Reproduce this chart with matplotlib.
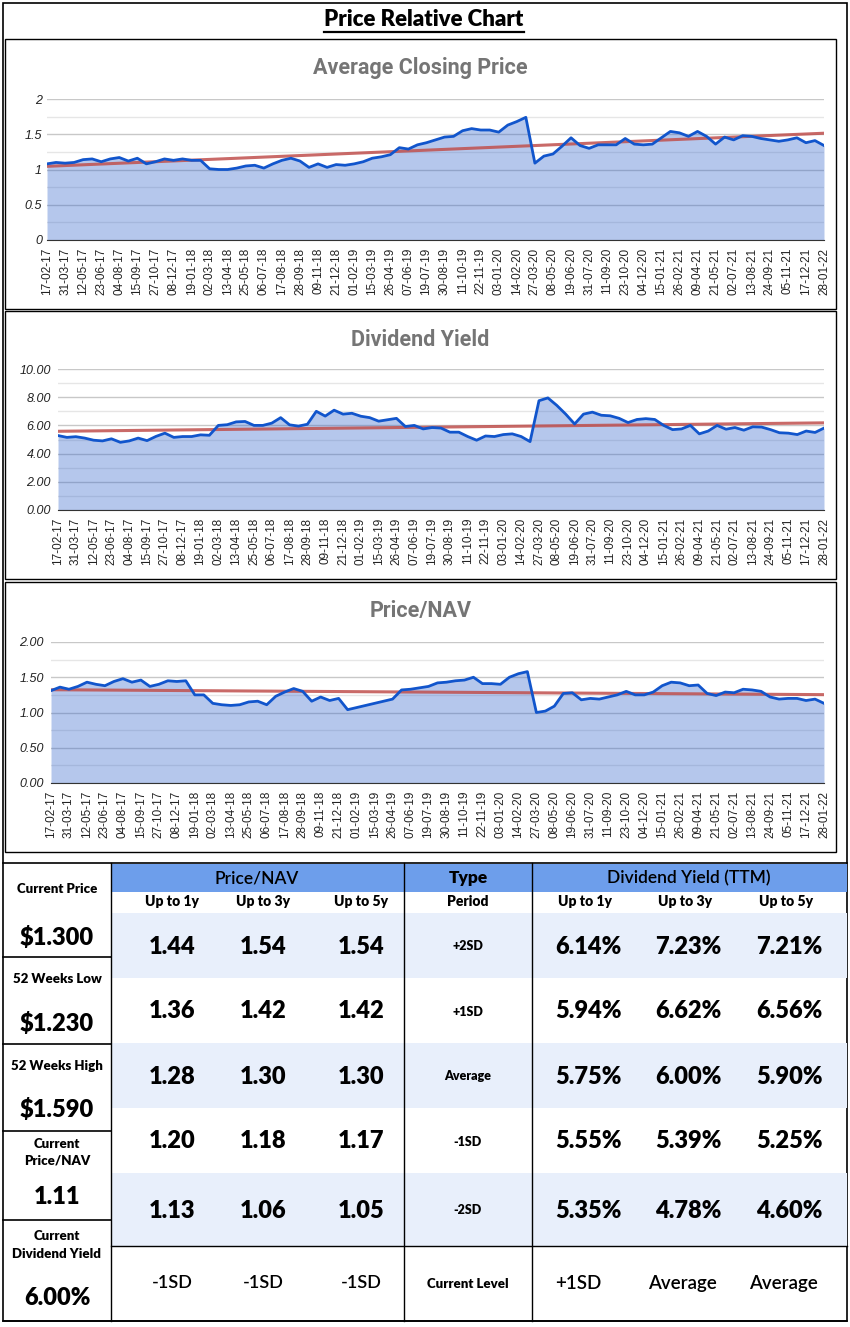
import numpy as np
import pandas as pd
import matplotlib
matplotlib.use('Agg')
import matplotlib.pyplot as plt
from matplotlib.patches import Rectangle
from matplotlib.ticker import FuncFormatter

# values read every 3 weeks, 17-02-2017 .. 28-01-2022
avg_close = [1.08, 1.10, 1.09, 1.10, 1.14, 1.15, 1.11, 1.15, 1.17, 1.12,
             1.16, 1.08, 1.11, 1.15, 1.13, 1.15, 1.13, 1.13, 1.01, 1.00,
             1.00, 1.02, 1.05, 1.06, 1.02, 1.08, 1.13, 1.16, 1.12, 1.03,
             1.08, 1.03, 1.07, 1.06, 1.08, 1.11, 1.16, 1.18, 1.21, 1.31,
             1.29, 1.35, 1.38, 1.42, 1.46, 1.47, 1.55, 1.58, 1.56, 1.56,
             1.53, 1.63, 1.68, 1.74, 1.09, 1.19, 1.22, 1.33, 1.45, 1.34,
             1.30, 1.35, 1.35, 1.35, 1.44, 1.36, 1.35, 1.36, 1.45, 1.54,
             1.52, 1.47, 1.54, 1.47, 1.36, 1.46, 1.42, 1.48, 1.47, 1.44,
             1.42, 1.40, 1.42, 1.45, 1.38, 1.41, 1.34]
div_yield = [5.28, 5.15, 5.20, 5.10, 4.95, 4.90, 5.05, 4.80, 4.90, 5.10,
             4.92, 5.22, 5.45, 5.15, 5.21, 5.21, 5.33, 5.30, 6.00, 6.05,
             6.25, 6.28, 6.00, 6.00, 6.16, 6.55, 6.04, 5.95, 6.08, 7.00,
             6.66, 7.08, 6.80, 6.86, 6.65, 6.55, 6.30, 6.40, 6.50, 5.92,
             6.00, 5.75, 5.85, 5.81, 5.52, 5.52, 5.21, 4.95, 5.25, 5.21,
             5.35, 5.40, 5.21, 4.85, 7.75, 7.95, 7.42, 6.80, 6.10, 6.80,
             6.94, 6.72, 6.68, 6.50, 6.20, 6.42, 6.48, 6.42, 6.00, 5.70,
             5.75, 6.00, 5.40, 5.60, 6.00, 5.73, 5.85, 5.66, 5.90, 5.88,
             5.70, 5.48, 5.45, 5.35, 5.60, 5.50, 5.81]
price_nav = [1.31, 1.36, 1.33, 1.37, 1.43, 1.40, 1.38, 1.44, 1.48, 1.43,
             1.46, 1.37, 1.40, 1.45, 1.44, 1.45, 1.25, 1.25, 1.13, 1.11,
             1.10, 1.11, 1.15, 1.16, 1.11, 1.23, 1.29, 1.34, 1.30, 1.16,
             1.22, 1.17, 1.20, 1.04, 1.07, 1.10, 1.13, 1.16, 1.19, 1.32,
             1.33, 1.35, 1.37, 1.42, 1.43, 1.45, 1.46, 1.50, 1.41, 1.41,
             1.40, 1.50, 1.55, 1.58, 1.00, 1.02, 1.09, 1.27, 1.28, 1.18,
             1.20, 1.19, 1.22, 1.25, 1.30, 1.25, 1.25, 1.29, 1.38, 1.43,
             1.42, 1.38, 1.39, 1.27, 1.24, 1.29, 1.28, 1.33, 1.32, 1.30,
             1.22, 1.19, 1.20, 1.20, 1.17, 1.19, 1.13]

tick_labels = ['17-02-17', '31-03-17', '12-05-17', '23-06-17', '04-08-17', '15-09-17',
               '27-10-17', '08-12-17', '19-01-18', '02-03-18', '13-04-18', '25-05-18',
               '06-07-18', '17-08-18', '28-09-18', '09-11-18', '21-12-18', '01-02-19',
               '15-03-19', '26-04-19', '07-06-19', '19-07-19', '30-08-19', '11-10-19',
               '22-11-19', '03-01-20', '14-02-20', '27-03-20', '08-05-20', '19-06-20',
               '31-07-20', '11-09-20', '23-10-20', '04-12-20', '15-01-21', '26-02-21',
               '09-04-21', '21-05-21', '02-07-21', '13-08-21', '24-09-21', '05-11-21',
               '17-12-21', '28-01-22']

# table
left_labels = ['Current Price', '52 Weeks Low', '52 Weeks High', 'Current\nPrice/NAV', 'Current\nDividend Yield']
left_values = ['$1.300', '$1.230', '$1.590', '1.11', '6.00%']
sd_types = ['+2SD', '+1SD', 'Average', '-1SD', '-2SD']
periods = ['Up to 1y', 'Up to 3y', 'Up to 5y']
pnav_1y = [1.44, 1.36, 1.28, 1.20, 1.13]
pnav_3y = [1.54, 1.42, 1.30, 1.18, 1.06]
pnav_5y = [1.54, 1.42, 1.30, 1.17, 1.05]
dy_1y = [6.14, 5.94, 5.75, 5.55, 5.35]
dy_3y = [7.23, 6.62, 6.00, 5.39, 4.78]
dy_5y = [7.21, 6.56, 5.90, 5.25, 4.60]
level_pnav = ['-1SD', '-1SD', '-1SD']
level_dy = ['+1SD', 'Average', 'Average']

dates = pd.date_range('2017-02-17', periods=len(avg_close), freq='21D')
tick_dates = pd.to_datetime(tick_labels, format='%d-%m-%y')

W, H = 850, 1327
fig = plt.figure(figsize=(W / 100, H / 100), dpi=100)
bg = fig.add_axes([0, 0, 1, 1])
bg.set_xlim(0, W)
bg.set_ylim(H, 0)
bg.axis('off')

CAL = ['Lato', 'DejaVu Sans']
ARIAL = ['Liberation Sans', 'DejaVu Sans']
HEAVY = 'heavy'


def px_axes(left, top, right, bottom):
    return fig.add_axes([left / W, 1 - bottom / H, (right - left) / W, (bottom - top) / H])


def area_chart(box, plot, values, title, ymax, ystep, fmt, ypad):
    l, t, r, b = box
    bg.add_patch(Rectangle((l, t), r - l, b - t, fill=False, ec='black', lw=1))
    bg.text((l + r) / 2, t + 29, title, ha='center', va='center', fontsize=15.5,
            weight='bold', color='#757575', family=['Roboto', 'DejaVu Sans'])
    ax = px_axes(*plot)
    ax.patch.set_alpha(0)
    vals = np.array(values)
    ax.fill_between(dates, vals, color='#3366cc', alpha=0.36, lw=0, zorder=2)
    xi = np.arange(len(vals))
    k, c = np.polyfit(xi, vals, 1)
    ax.plot(dates, k * xi + c, color='#c0504d', lw=2.2, alpha=0.85, zorder=3)
    ax.plot(dates, vals, color='#1155cc', lw=2, zorder=4)
    ax.set_xlim(dates[0], dates[-1])
    ax.set_ylim(0, ymax)
    ax.set_yticks(np.arange(0, ymax + ystep / 2, ystep))
    ax.set_yticks(np.arange(ystep / 2, ymax, ystep), minor=True)
    ax.yaxis.set_major_formatter(FuncFormatter(fmt))
    ax.set_xticks(tick_dates)
    ax.set_xticklabels(tick_labels, rotation=90, fontsize=8.5, family=ARIAL, color='#222222')
    for lab in ax.get_yticklabels():
        lab.set_fontstyle('italic')
        lab.set_fontsize(9)
        lab.set_family(ARIAL)
        lab.set_color('#222222')
    ax.set_axisbelow(True)
    ax.grid(axis='y', which='major', color='#c8c8c8', lw=1)
    ax.grid(axis='y', which='minor', color='#e6e6e6', lw=1)
    for sp in ['left', 'right', 'top']:
        ax.spines[sp].set_visible(False)
    ax.spines['bottom'].set_color('#333333')
    ax.tick_params(which='both', length=0)
    ax.tick_params(axis='x', pad=5.5)
    ax.tick_params(axis='y', pad=ypad)
    return ax


# outer frame and title
bg.add_patch(Rectangle((3, 3), 844, 1318, fill=False, ec='black', lw=1.2))
ttl = bg.text(424, 20, 'Price Relative Chart', ha='center', va='center', fontsize=16,
              weight=HEAVY, family=CAL)
fig.canvas.draw()
ext = ttl.get_window_extent().transformed(bg.transData.inverted())
bg.plot([ext.x0, ext.x1], [32, 32], color='black', lw=1.6)

area_chart((5, 39, 836, 309), (47, 99, 824, 240), avg_close, 'Average Closing Price',
           2, 0.5, lambda v, p: '{:g}'.format(v), 3.6)
area_chart((5, 311, 836, 579), (58, 369, 824, 510), div_yield, 'Dividend Yield',
           10, 2, lambda v, p: '{:.2f}'.format(v), 5)
area_chart((5, 582, 836, 852), (51, 642, 824, 783), price_nav, 'Price/NAV',
           2, 0.5, lambda v, p: '{:.2f}'.format(v), 5)

# ---- table ----
blue = '#6d9eeb'
light = '#e8effb'
row_top = [913, 978, 1043, 1108, 1173, 1246]
row_bot = [978, 1043, 1108, 1173, 1246, 1321]
pnav_x = [172, 263, 361]
dy_x = [588, 688, 789]
type_x = 468

bg.add_patch(Rectangle((111, 864), 736, 28, color=blue, lw=0))
for i in (0, 2, 4):
    bg.add_patch(Rectangle((111, row_top[i]), 736, row_bot[i] - row_top[i], color=light, lw=0))

bg.plot([3, 847], [863, 863], color='black', lw=1.2)
bg.plot([3, 847], [1321, 1321], color='black', lw=1.2)
bg.plot([111, 847], [1246, 1246], color='black', lw=1)
for x in (111, 404, 532):
    bg.plot([x, x], [863, 1321], color='black', lw=1)
for y in (957, 1044, 1131, 1220):
    bg.plot([3, 111], [y, y], color='black', lw=1.2)

bg.text(257, 878, 'Price/NAV', ha='center', va='center', fontsize=12.5, weight='semibold', family=CAL)
bg.text(type_x, 878, 'Type', ha='center', va='center', fontsize=12.5, weight=HEAVY, family=CAL)
bg.text(689, 878, 'Dividend Yield (TTM)', ha='center', va='center', fontsize=12.5,
        weight='semibold', family=CAL)
for j, p in enumerate(periods):
    bg.text(pnav_x[j], 902, p, ha='center', va='center', fontsize=10, weight=HEAVY, family=CAL)
    bg.text(dy_x[j] - 3, 902, p, ha='center', va='center', fontsize=10, weight=HEAVY, family=CAL)
bg.text(type_x, 902, 'Period', ha='center', va='center', fontsize=10, weight=HEAVY, family=CAL)

left_label_y = [889, 979, 1066, 1152, 1245]
left_value_y = [937, 1023, 1110, 1197, 1298]
for lab, val, ly, vy in zip(left_labels, left_values, left_label_y, left_value_y):
    bg.text(57, ly, lab, ha='center', va='center', fontsize=9.5, weight=HEAVY,
            family=CAL, linespacing=1.5)
    bg.text(57, vy, val, ha='center', va='center', fontsize=17, weight=HEAVY, family=CAL)

for i in range(5):
    yc = (row_top[i] + row_bot[i]) / 2 + 1
    for j, col in enumerate([pnav_1y, pnav_3y, pnav_5y]):
        bg.text(pnav_x[j], yc, '{:.2f}'.format(col[i]), ha='center', va='center',
                fontsize=17, weight=HEAVY, family=CAL)
    for j, col in enumerate([dy_1y, dy_3y, dy_5y]):
        bg.text(dy_x[j], yc, '{:.2f}%'.format(col[i]), ha='center', va='center',
                fontsize=17, weight=HEAVY, family=CAL)
    bg.text(type_x, yc, sd_types[i], ha='center', va='center', fontsize=9, weight=HEAVY, family=CAL)

yc = (row_top[5] + row_bot[5]) / 2
for j in range(3):
    bg.text(pnav_x[j], yc, level_pnav[j], ha='center', va='center', fontsize=13,
            weight='semibold', family=CAL)
    bg.text(dy_x[j] - (10 if j == 0 else 6), yc, level_dy[j], ha='center', va='center',
            fontsize=13.5, weight='semibold', family=CAL)
bg.text(type_x, yc, 'Current Level', ha='center', va='center', fontsize=9.5, weight=HEAVY, family=CAL)

fig.savefig('out.png', dpi=100)
